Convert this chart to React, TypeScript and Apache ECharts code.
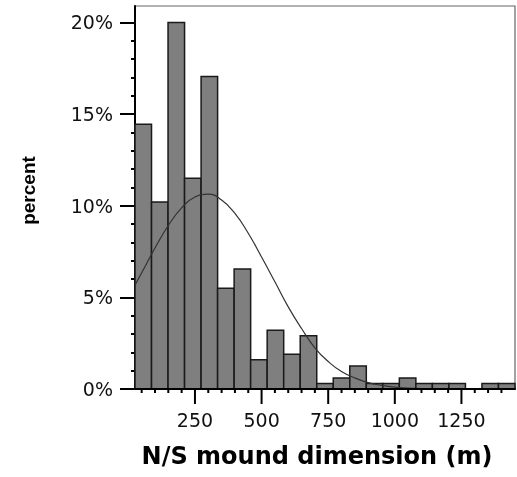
import React, { useEffect, useRef } from 'react';
import * as echarts from 'echarts';

// Histogram: percent per bin (bins of equal width starting at BIN_START)
const binPercent = [14.45, 10.2, 20.0, 11.5, 17.05, 5.5, 6.55, 1.6, 3.2, 1.9, 2.9, 0.3, 0.6, 1.25, 0.3, 0.3, 0.6, 0.3, 0.3, 0.3, 0, 0.3, 0.3];
const BIN_START = 25;
const BIN_WIDTH = 62;

// Fitted curve
const curveX = [25, 50, 100, 150, 200, 250, 300, 350, 400, 450, 500, 550, 600, 650, 700, 750, 800, 850, 900, 950, 1000, 1050, 1100, 1150, 1200, 1300, 1451];
const curveY = [5.67, 6.34, 7.69, 8.92, 9.88, 10.48, 10.63, 10.31, 9.58, 8.5, 7.2, 5.85, 4.48, 3.3, 2.25, 1.5, 0.95, 0.6, 0.35, 0.2, 0.1, 0.05, 0.02, 0.01, 0, 0, 0];

// Axis ticks
const xTickLabels = [250, 500, 750, 1000, 1250];
const xMinorTicks = [50, 100, 150, 200, 300, 350, 400, 450, 550, 600, 650, 700, 800, 850, 900, 950, 1050, 1100, 1150, 1200, 1300, 1350, 1400];
const yTickLabels = [0, 5, 10, 15, 20];
const yMinorTicks = [1, 2, 3, 4, 6, 7, 8, 9, 11, 12, 13, 14, 16, 17, 18, 19];

const X_MIN = 25;
const X_MAX = 1451;
const Y_MAX = 20.9;

export default function App() {
  const ref = useRef<HTMLDivElement>(null);
  useEffect(() => {
    if (!ref.current) return;
    const chart = echarts.init(ref.current, null, { renderer: 'svg' });
    const bins = binPercent.map((v, i) => [BIN_START + i * BIN_WIDTH, BIN_START + (i + 1) * BIN_WIDTH, v]);
    const curve = curveX.map((x, i) => [x, curveY[i]]);
    const tickFont = { fontFamily: 'DejaVu Sans', fontSize: 19, color: '#111' };
    chart.setOption({
      animation: false,
      grid: {
        left: 135, right: 2, top: 6, bottom: 88,
        outerBoundsMode: 'none',
        show: true, borderColor: '#666', borderWidth: 1.2, backgroundColor: 'transparent',
      },
      xAxis: [
        {
          type: 'value', min: X_MIN, max: X_MAX, position: 'bottom',
          axisLine: { show: true, lineStyle: { color: '#000', width: 2 } },
          axisTick: { show: false },
          axisLabel: { show: false },
          splitLine: { show: false },
          name: 'N/S mound dimension (m)',
          nameLocation: 'middle',
          nameGap: 55,
          nameMoveOverlap: false,
          nameTextStyle: { fontFamily: 'DejaVu Sans', fontWeight: 'bold', fontSize: 24, color: '#000', padding: [0, 16, 0, 0] },
        },
      ],
      yAxis: [
        {
          type: 'value', min: 0, max: Y_MAX, position: 'left',
          axisLine: { show: true, lineStyle: { color: '#000', width: 2 } },
          axisTick: { show: true, customValues: yTickLabels, length: 15, lineStyle: { color: '#000', width: 2 } },
          axisLabel: { show: true, customValues: yTickLabels, margin: 22, formatter: '{value}%', ...tickFont },
          splitLine: { show: false },
          name: 'percent',
          nameLocation: 'middle',
          nameGap: 97,
          nameMoveOverlap: false,
          nameTextStyle: { fontFamily: 'Liberation Sans', fontWeight: 'bold', fontSize: 19, color: '#000', padding: [0, 0, 0, 14] },
        },
        {
          type: 'value', min: 0, max: Y_MAX, position: 'left',
          axisLine: { show: false },
          axisTick: { show: true, customValues: yMinorTicks, length: 4, lineStyle: { color: '#000', width: 2 } },
          axisLabel: { show: false },
          splitLine: { show: false },
        },
      ],
      series: [
        {
          type: 'custom',
          xAxisIndex: 0,
          yAxisIndex: 0,
          data: bins,
          z: 2,
          renderItem: (params: any, api: any) => {
            const v = api.value(2);
            if (!v) return null;
            const p0 = api.coord([api.value(0), v]);
            const p1 = api.coord([api.value(1), 0]);
            return {
              type: 'rect',
              shape: { x: p0[0], y: p0[1], width: p1[0] - p0[0], height: p1[1] - p0[1] },
              style: { fill: '#7f7f7f', stroke: '#1a1a1a', lineWidth: 1.5 },
            };
          },
        },
        {
          type: 'line',
          xAxisIndex: 0,
          yAxisIndex: 0,
          data: curve,
          smooth: true,
          showSymbol: false,
          symbol: 'none',
          z: 5,
          lineStyle: { color: '#333', width: 1.2 },
        },
        {
          // x baseline (axis line)
          type: 'custom',
          xAxisIndex: 0,
          yAxisIndex: 0,
          clip: false,
          silent: true,
          z: 6,
          data: [[X_MIN, X_MAX]],
          renderItem: (params: any, api: any) => {
            const a = api.coord([api.value(0), 0]);
            const b = api.coord([api.value(1), 0]);
            return { type: 'line', shape: { x1: a[0], y1: a[1], x2: b[0], y2: b[1] }, style: { stroke: '#000', lineWidth: 2 } };
          },
        },
        {
          // x major ticks with labels
          type: 'custom',
          xAxisIndex: 0,
          yAxisIndex: 0,
          clip: false,
          silent: true,
          z: 6,
          data: xTickLabels.map((v) => [v, 0]),
          renderItem: (params: any, api: any) => {
            const v = api.value(0);
            const p = api.coord([v, 0]);
            return {
              type: 'group',
              children: [
                { type: 'line', shape: { x1: p[0], y1: p[1], x2: p[0], y2: p[1] + 15 }, style: { stroke: '#000', lineWidth: 2 } },
                {
                  type: 'text', x: p[0], y: p[1] + 21,
                  style: { text: String(v), fill: '#111', fontFamily: 'DejaVu Sans', fontSize: 19, align: 'center', verticalAlign: 'top' },
                },
              ],
            };
          },
        },
        {
          // x minor ticks
          type: 'custom',
          xAxisIndex: 0,
          yAxisIndex: 0,
          clip: false,
          silent: true,
          z: 6,
          data: xMinorTicks.map((v) => [v, 0]),
          renderItem: (params: any, api: any) => {
            const p = api.coord([api.value(0), 0]);
            return { type: 'line', shape: { x1: p[0], y1: p[1], x2: p[0], y2: p[1] + 4 }, style: { stroke: '#000', lineWidth: 2 } };
          },
        },
      ],
    });
    return () => chart.dispose();
  }, []);
  return <div ref={ref} style={{ position: 'fixed', left: 0, top: 0, width: 517, height: 477 }} />;
}
